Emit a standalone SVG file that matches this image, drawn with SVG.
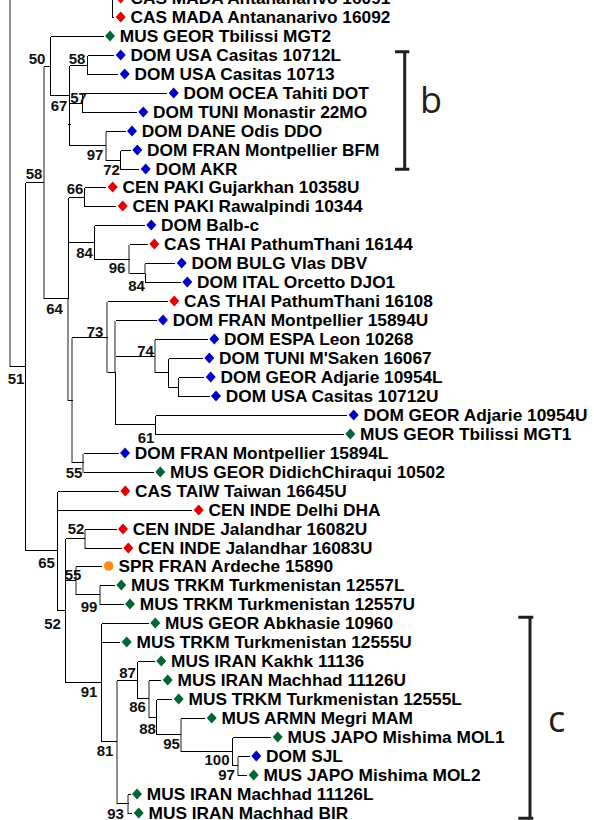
<svg xmlns="http://www.w3.org/2000/svg" xmlns:xlink="http://www.w3.org/1999/xlink" width="594" height="820" viewBox="0 0 594 820">
<defs>
<style>
.lf{font-family:"Liberation Sans",Arial,sans-serif;font-weight:bold;font-size:17.3px;fill:#000}
.bs{font-family:"Liberation Sans",Arial,sans-serif;font-weight:bold;font-size:15px;fill:#111;text-anchor:middle}
.k{fill:none;stroke:#000;stroke-width:1;shape-rendering:crispEdges}
.g{fill:none;stroke:#8e8e8e;stroke-width:2;shape-rendering:crispEdges}
.b{fill:#0000c8}.r{fill:#e30000}.v{fill:#006635}.o{fill:#ff8c1a}
.br{fill:none;stroke:#231f20;stroke-width:3}
.bl{font-family:"Open Sans","Noto Sans",sans-serif;font-size:36px;fill:#231f20}
</style>
<path id="dm" d="M0,-5.5 L5,0 L0,5.5 L-5,0 Z"/>
</defs>
<rect width="594" height="820" fill="#fff"/>
<g id="connectors">
<path class="g" d="M10,-1 V367 M44,66.5 V298.5 M106,131.5 V160.5 M68,298.5 V400.5 M129,244.5 V273.5 M145,263.5 V273.5 M72,337.5 V462.5 M107,301.5 V372.5 M115,320.5 V372.5 M155,339.5 V372.5 M83,453.5 V472.5 M85,529.5 V548.5 M76,566.5 V594.5 M100,585.5 V604.5 M117,680.5 V803.5 M149,680.5 V717.5 M181,718.5 V751.5 M238,756.5 V775.5 M128,794.5 V813.5"/>
<path class="k" d="M10,366.5 H25.5 M25.5,182.5 V550.5 M25.5,182.5 H44 M25.5,550.5 H57.5
M44,66.5 H50.5 M44,298.5 H68.5
M50.5,36.5 V95.5 M50.5,36.5 H103.5 M50.5,95.5 H69.5
M69.5,65.5 V145.5 M68,124.5 H71
M69.5,65.5 H87.5 M87.5,55.5 V74.5 M87.5,55.5 H114.2 M87.5,74.5 H118.2
M69.5,103.5 H82.5 M82.5,93.5 V112.5 M82.5,93.5 H167.2 M82.5,112.5 H136.8
M69.5,145.5 H106 M106,131.5 H125.5 M106,160.5 H120.5
M120.5,150.5 V169.5 M120.5,150.5 H130.8 M120.5,169.5 H139.2
M112.5,-2 V17.5 M112.5,-1.5 H114.2 M112.5,17.5 H114.2
M68.5,197.5 V298.5 M68.5,197.5 H84.5 M68.5,242.5 H94.5 M68,400.5 H72.5
M84.5,187.5 V206.5 M84.5,187.5 H106.2 M84.5,206.5 H116.2
M94.5,225.5 V259.5 M94.5,225.5 H144.8 M94.5,259.5 H129.5
M129.5,244.5 H147.8 M129.5,273.5 H145
M145.5,273.5 V282.5 M145,263.5 H175.2 M145,282.5 H180.8
M72,337.5 H107.5 M72,462.5 H83.5
M107.5,301.5 H167.8 M107.5,372.5 H115.5
M115.5,372.5 V424.5 M115.5,320.5 H156.5 M115.5,356.5 H155 M115.5,424.5 H155
M155,339.5 H207.8 M155,372.5 H168.5
M168.5,358.5 V387.5 M168.5,358.5 H202.8 M168.5,387.5 H178.5
M178.5,377.5 V396.5 M178.5,377.5 H204.2 M178.5,396.5 H209.5
M155.5,415.5 V434.5 M155.5,415.5 H347.2 M155.5,434.5 H343.8
M83.5,453.5 H118.5 M83.5,472.5 H153.8
M57.5,491.5 V610.5 M57.5,491.5 H118.8 M57.5,510.5 H192.2 M57.5,610.5 H65.5
M65.5,538.5 V682.5 M65.5,538.5 H85 M65.5,580.5 H76 M65.5,682.5 H101.5
M85,529.5 H116.5 M85,548.5 H121.8
M76,566.5 H102 M76,594.5 H100
M100,585.5 H114.8 M100,604.5 H123.5
M101.5,623.5 V741.5 M101.5,623.5 H148.8 M101.5,642.5 H120.2 M101.5,741.5 H117
M117,680.5 H137.5 M117,803.5 H128.5
M137.5,661.5 V698.5 M137.5,661.5 H154.8 M137.5,698.5 H149
M149,680.5 H161.2 M149,717.5 H156.5
M156.5,699.5 V734.5 M156.5,699.5 H172.2 M156.5,734.5 H181
M181,718.5 H205.2 M181,751.5 H232.5
M232.5,737.5 V765.5 M232.5,737.5 H271.2 M232.5,765.5 H238
M238,756.5 H249.8 M238,775.5 H247.2
M128,794.5 H130.5 M128,813.5 H132.2"/>
</g>
<g id="leaf-00"><use xlink:href="#dm" class="r" x="120.7" y="-2"/><text class="lf" x="130.5" y="4.2">CAS MADA Antananarivo 16091</text></g>
<g id="leaf-01"><use xlink:href="#dm" class="r" x="120.7" y="17"/><text class="lf" x="130.5" y="23.2">CAS MADA Antananarivo 16092</text></g>
<g id="leaf-02"><use xlink:href="#dm" class="v" x="110" y="36"/><text class="lf" x="119.8" y="42.2">MUS GEOR Tbilissi MGT2</text></g>
<g id="leaf-03"><use xlink:href="#dm" class="b" x="120.7" y="55"/><text class="lf" x="130.5" y="61.2">DOM USA Casitas 10712L</text></g>
<g id="leaf-04"><use xlink:href="#dm" class="b" x="124.7" y="74"/><text class="lf" x="134.5" y="80.2">DOM USA Casitas 10713</text></g>
<g id="leaf-05"><use xlink:href="#dm" class="b" x="173.7" y="93"/><text class="lf" x="183.5" y="99.2">DOM OCEA Tahiti DOT</text></g>
<g id="leaf-06"><use xlink:href="#dm" class="b" x="143.3" y="112"/><text class="lf" x="153.1" y="118.2">DOM TUNI Monastir 22MO</text></g>
<g id="leaf-07"><use xlink:href="#dm" class="b" x="132" y="131"/><text class="lf" x="141.8" y="137.2">DOM DANE Odis DDO</text></g>
<g id="leaf-08"><use xlink:href="#dm" class="b" x="137.3" y="150"/><text class="lf" x="147.1" y="156.2">DOM FRAN Montpellier BFM</text></g>
<g id="leaf-09"><use xlink:href="#dm" class="b" x="145.7" y="169"/><text class="lf" x="155.5" y="175.2">DOM AKR</text></g>
<g id="leaf-10"><use xlink:href="#dm" class="r" x="112.7" y="187"/><text class="lf" x="122.5" y="193.2">CEN PAKI Gujarkhan 10358U</text></g>
<g id="leaf-11"><use xlink:href="#dm" class="r" x="122.7" y="206"/><text class="lf" x="132.5" y="212.2">CEN PAKI Rawalpindi 10344</text></g>
<g id="leaf-12"><use xlink:href="#dm" class="b" x="151.3" y="225"/><text class="lf" x="161.1" y="231.2">DOM Balb-c</text></g>
<g id="leaf-13"><use xlink:href="#dm" class="r" x="154.3" y="244"/><text class="lf" x="164.1" y="250.2">CAS THAI PathumThani 16144</text></g>
<g id="leaf-14"><use xlink:href="#dm" class="b" x="181.7" y="263"/><text class="lf" x="191.5" y="269.2">DOM BULG Vlas DBV</text></g>
<g id="leaf-15"><use xlink:href="#dm" class="b" x="187.3" y="282"/><text class="lf" x="197.1" y="288.2">DOM ITAL Orcetto DJO1</text></g>
<g id="leaf-16"><use xlink:href="#dm" class="r" x="174.3" y="301"/><text class="lf" x="184.1" y="307.2">CAS THAI PathumThani 16108</text></g>
<g id="leaf-17"><use xlink:href="#dm" class="b" x="163" y="320"/><text class="lf" x="172.8" y="326.2">DOM FRAN Montpellier 15894U</text></g>
<g id="leaf-18"><use xlink:href="#dm" class="b" x="214.3" y="339"/><text class="lf" x="224.1" y="345.2">DOM ESPA Leon 10268</text></g>
<g id="leaf-19"><use xlink:href="#dm" class="b" x="209.3" y="358"/><text class="lf" x="219.1" y="364.2">DOM TUNI M'Saken 16067</text></g>
<g id="leaf-20"><use xlink:href="#dm" class="b" x="210.7" y="377"/><text class="lf" x="220.5" y="383.2">DOM GEOR Adjarie 10954L</text></g>
<g id="leaf-21"><use xlink:href="#dm" class="b" x="216" y="396"/><text class="lf" x="225.8" y="402.2">DOM USA Casitas 10712U</text></g>
<g id="leaf-22"><use xlink:href="#dm" class="b" x="353.7" y="415"/><text class="lf" x="363.5" y="421.2">DOM GEOR Adjarie 10954U</text></g>
<g id="leaf-23"><use xlink:href="#dm" class="v" x="350.3" y="434"/><text class="lf" x="360.1" y="440.2">MUS GEOR Tbilissi MGT1</text></g>
<g id="leaf-24"><use xlink:href="#dm" class="b" x="125" y="453"/><text class="lf" x="134.8" y="459.2">DOM FRAN Montpellier 15894L</text></g>
<g id="leaf-25"><use xlink:href="#dm" class="v" x="160.3" y="472"/><text class="lf" x="170.1" y="478.2">MUS GEOR DidichChiraqui 10502</text></g>
<g id="leaf-26"><use xlink:href="#dm" class="r" x="125.3" y="491"/><text class="lf" x="135.1" y="497.2">CAS TAIW Taiwan 16645U</text></g>
<g id="leaf-27"><use xlink:href="#dm" class="r" x="198.7" y="510"/><text class="lf" x="208.5" y="516.2">CEN INDE Delhi DHA</text></g>
<g id="leaf-28"><use xlink:href="#dm" class="r" x="123" y="529"/><text class="lf" x="132.8" y="535.2">CEN INDE Jalandhar 16082U</text></g>
<g id="leaf-29"><use xlink:href="#dm" class="r" x="128.3" y="548"/><text class="lf" x="138.1" y="554.2">CEN INDE Jalandhar 16083U</text></g>
<g id="leaf-30"><circle class="o" cx="108.7" cy="566" r="4.8"/><text class="lf" x="118.5" y="572.2">SPR FRAN Ardeche 15890</text></g>
<g id="leaf-31"><use xlink:href="#dm" class="v" x="121.3" y="585"/><text class="lf" x="131.1" y="591.2">MUS TRKM Turkmenistan 12557L</text></g>
<g id="leaf-32"><use xlink:href="#dm" class="v" x="130" y="604"/><text class="lf" x="139.8" y="610.2">MUS TRKM Turkmenistan 12557U</text></g>
<g id="leaf-33"><use xlink:href="#dm" class="v" x="155.3" y="623"/><text class="lf" x="165.1" y="629.2">MUS GEOR Abkhasie 10960</text></g>
<g id="leaf-34"><use xlink:href="#dm" class="v" x="126.7" y="642"/><text class="lf" x="136.5" y="648.2">MUS TRKM Turkmenistan 12555U</text></g>
<g id="leaf-35"><use xlink:href="#dm" class="v" x="161.3" y="661"/><text class="lf" x="171.1" y="667.2">MUS IRAN Kakhk 11136</text></g>
<g id="leaf-36"><use xlink:href="#dm" class="v" x="167.7" y="680"/><text class="lf" x="177.5" y="686.2">MUS IRAN Machhad 11126U</text></g>
<g id="leaf-37"><use xlink:href="#dm" class="v" x="178.7" y="699"/><text class="lf" x="188.5" y="705.2">MUS TRKM Turkmenistan 12555L</text></g>
<g id="leaf-38"><use xlink:href="#dm" class="v" x="211.7" y="718"/><text class="lf" x="221.5" y="724.2">MUS ARMN Megri MAM</text></g>
<g id="leaf-39"><use xlink:href="#dm" class="v" x="277.7" y="737"/><text class="lf" x="287.5" y="743.2">MUS JAPO Mishima MOL1</text></g>
<g id="leaf-40"><use xlink:href="#dm" class="b" x="256.3" y="756"/><text class="lf" x="266.1" y="762.2">DOM SJL</text></g>
<g id="leaf-41"><use xlink:href="#dm" class="v" x="253.7" y="775"/><text class="lf" x="263.5" y="781.2">MUS JAPO Mishima MOL2</text></g>
<g id="leaf-42"><use xlink:href="#dm" class="v" x="137" y="794"/><text class="lf" x="146.8" y="800.2">MUS IRAN Machhad 11126L</text></g>
<g id="leaf-43"><use xlink:href="#dm" class="v" x="138.7" y="813"/><text class="lf" x="148.5" y="819.2">MUS IRAN Machhad BIR</text></g>
<g id="node-50"><text class="bs" x="37" y="64.4">50</text></g>
<g id="node-58a"><text class="bs" x="77" y="64.4">58</text></g>
<g id="node-57"><text class="bs" x="78.5" y="103.4">57</text></g>
<g id="node-67"><text class="bs" x="59" y="110.9">67</text></g>
<g id="node-97a"><text class="bs" x="95" y="159.9">97</text></g>
<g id="node-72"><text class="bs" x="111.5" y="175.4">72</text></g>
<g id="node-58b"><text class="bs" x="34" y="179.4">58</text></g>
<g id="node-66"><text class="bs" x="75" y="193.9">66</text></g>
<g id="node-84a"><text class="bs" x="84.5" y="257.9">84</text></g>
<g id="node-96"><text class="bs" x="117" y="273.4">96</text></g>
<g id="node-84b"><text class="bs" x="136.5" y="290.9">84</text></g>
<g id="node-64"><text class="bs" x="54.5" y="314.4">64</text></g>
<g id="node-73"><text class="bs" x="95" y="336.9">73</text></g>
<g id="node-74"><text class="bs" x="145.5" y="355.9">74</text></g>
<g id="node-51"><text class="bs" x="16" y="383.9">51</text></g>
<g id="node-61"><text class="bs" x="146" y="442.9">61</text></g>
<g id="node-55a"><text class="bs" x="74" y="477.9">55</text></g>
<g id="node-52a"><text class="bs" x="76" y="533.9">52</text></g>
<g id="node-65"><text class="bs" x="46.5" y="567.9">65</text></g>
<g id="node-55b"><text class="bs" x="73" y="580.4">55</text></g>
<g id="node-99"><text class="bs" x="89" y="612.4">99</text></g>
<g id="node-52b"><text class="bs" x="52.5" y="628.9">52</text></g>
<g id="node-87"><text class="bs" x="127.5" y="677.9">87</text></g>
<g id="node-91"><text class="bs" x="89" y="696.9">91</text></g>
<g id="node-86"><text class="bs" x="137.5" y="712.4">86</text></g>
<g id="node-88"><text class="bs" x="147.5" y="734.4">88</text></g>
<g id="node-95"><text class="bs" x="171.5" y="748.9">95</text></g>
<g id="node-81"><text class="bs" x="105" y="756.4">81</text></g>
<g id="node-100"><text class="bs" x="217" y="764.9">100</text></g>
<g id="node-97b"><text class="bs" x="226.5" y="780.4">97</text></g>
<g id="node-93"><text class="bs" x="115.5" y="819.4">93</text></g>
<g id="bracket-b"><path class="br" d="M395,51.7 H409.3 M404.7,51.7 V169.2 M395,169.2 H409.3"/><text class="bl" x="420" y="113.3">b</text></g>
<g id="bracket-c"><path class="br" d="M518.3,617.3 H533.3 M530,617.3 V818.3 M518.3,818.3 H533.3"/><text class="bl" x="548" y="731.7">c</text></g>
</svg>
